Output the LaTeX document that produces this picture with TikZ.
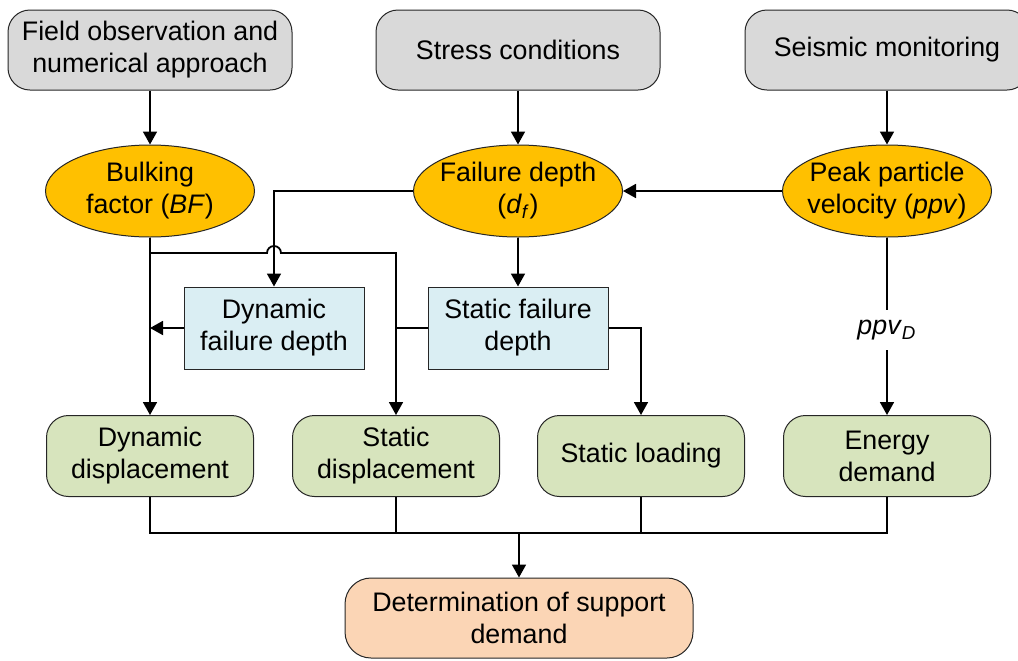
\documentclass[tikz,border=0pt]{standalone}
\usepackage{fontspec}
\setmainfont{Liberation Sans}
\usetikzlibrary{arrows.meta,shapes.geometric,calc}
\definecolor{srcgray}{HTML}{D9D9D9}
\definecolor{paramorange}{HTML}{FFC000}
\definecolor{depthblue}{HTML}{DAEEF3}
\definecolor{outgreen}{HTML}{D7E4BD}
\definecolor{goalpeach}{HTML}{FBD5B5}
\newcommand{\boxfont}{\fontsize{13.4}{16}\selectfont}

\begin{document}
\begin{tikzpicture}[x=0.5pt,y=-0.5pt,>={Triangle[length=6.5pt,width=7pt]},
  every node/.style={font=\boxfont,align=center,inner sep=0pt},
  src/.style={draw=black!85,line width=0.5pt,fill=srcgray,rounded corners=11pt,minimum width=142pt,minimum height=40pt},
  param/.style={ellipse,draw=black!85,line width=0.5pt,fill=paramorange,inner xsep=-3pt,minimum width=104.5pt,minimum height=46pt},
  depth/.style={draw=black!85,line width=0.5pt,fill=depthblue,minimum width=90pt,minimum height=41pt},
  outbox/.style={draw=black!85,line width=0.5pt,fill=outgreen,rounded corners=11pt,minimum width=103.5pt,minimum height=40.5pt},
  goal/.style={draw=black!85,line width=0.5pt,fill=goalpeach,rounded corners=13pt,minimum width=174pt,minimum height=40pt},
  link/.style={line width=0.9pt}]
  \useasboundingbox (0,0) rectangle (1018,660);
  % sources
  \node[src] (field) at (150,50) {Field observation and\\numerical approach};
  \node[src] (stress) at (518,50) {Stress conditions};
  \node[src] (seis) at (887,50) {Seismic monitoring};
  % parameters
  \node[param] (bf) at (150,191) {Bulking\\factor (\textit{BF})};
  \node[param] (fd) at (518,191) {Failure depth\\(\textit{d}\textsubscript{\textit{f}})};
  \node[param] (ppv) at (887,191) {Peak particle\\velocity (\textit{ppv})};
  % failure depths
  \node[depth] (dfd) at (274,328) {Dynamic\\failure depth};
  \node[depth] (sfd) at (518,328) {Static failure\\depth};
  % outputs
  \node[outbox] (dd) at (150,456) {Dynamic\\displacement};
  \node[outbox] (sd) at (396,456) {Static\\displacement};
  \node[outbox] (sl) at (641,456) {Static loading};
  \node[outbox] (ed) at (887,456) {Energy\\demand};
  \node[goal] (sup) at (519,618) {Determination of support\\demand};
  \coordinate (split) at (150,253);
  \coordinate (bus) at (519,533);
  % connectors
  \draw[link,->] (field) -- (bf);
  \draw[link,->] (stress) -- (fd);
  \draw[link,->] (seis) -- (ppv);
  \draw[link,->] (ppv) -- (fd);
  \draw[link,->] (fd) -- (sfd);
  \draw[link,->] (fd.west) -| (dfd);
  \draw[link,->] (bf) -- (dd);
  \draw[link,->] (dfd.west) -- (dfd.west -| dd);
  \draw[link,->] (split) -- ($(split -| dfd)+(-3.5pt,0)$) arc[start angle=180,end angle=0,radius=3.5pt] -| (sd);
  \draw[link] (sfd.west) -- (sfd.west -| sd);
  \draw[link,->] (sfd.east) -| (sl);
  \draw[link,->] (ppv) -- node[fill=white,inner ysep=5pt,inner xsep=2pt,yshift=-2pt] {\textit{ppv}\textsubscript{\textit{D}}} (ed);
  \draw[link] (dd.south) |- (bus) -| (ed.south);
  \draw[link] (sd.south) -- (sd |- bus);
  \draw[link] (sl.south) -- (sl |- bus);
  \draw[link,->] (bus) -- (sup);
\end{tikzpicture}
\end{document}
